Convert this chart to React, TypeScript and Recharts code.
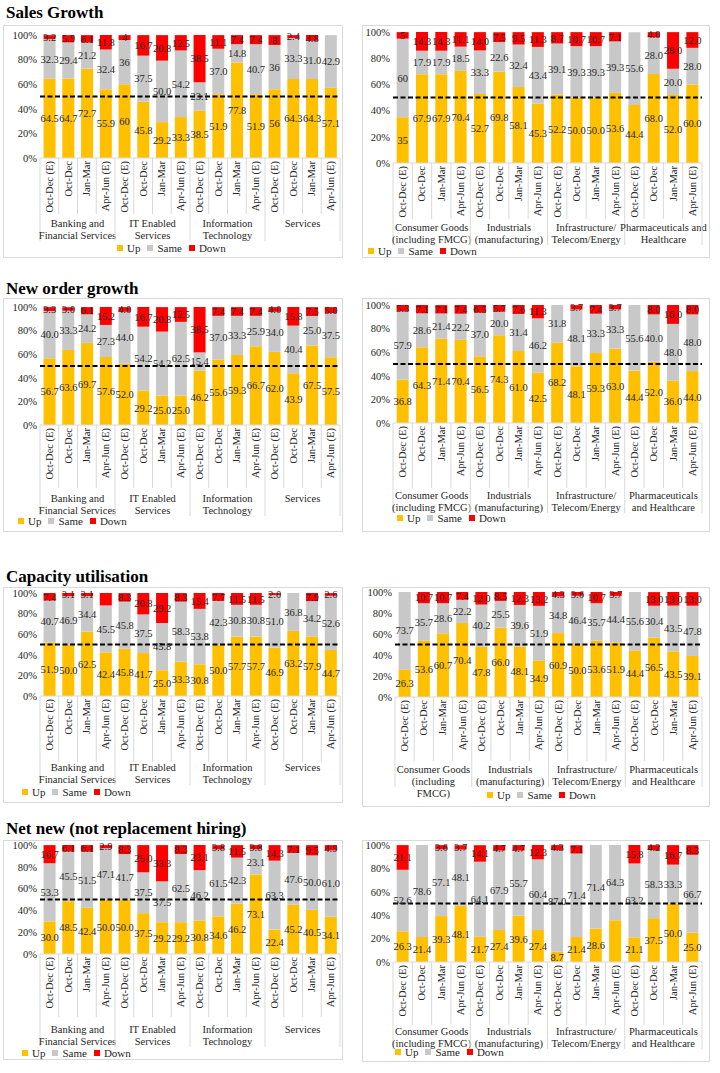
import React from 'react';
import { BarChart, Bar, XAxis, YAxis, ReferenceLine, LabelList } from 'recharts';

const periods = ['Oct-Dec (E)', 'Oct-Dec', 'Jan-Mar', 'Apr-Jun (E)'];
const leftGroups = ['Banking and\nFinancial Services', 'IT Enabled\nServices', 'Information\nTechnology', 'Services'];
const rightGroupsSales = ['Consumer Goods\n(including FMCG)', 'Industrials\n(manufacturing)', 'Infrastructure/\nTelecom/Energy', 'Pharmaceuticals and\nHealthcare'];
const rightGroups = ['Consumer Goods\n(including FMCG)', 'Industrials\n(manufacturing)', 'Infrastructure/\nTelecom/Energy', 'Pharmaceuticals\nand Healthcare'];
const rightGroupsCapacity = ['Consumer Goods\n(including\nFMCG)', 'Industrials\n(manufacturing)', 'Infrastructure/\nTelecom/Energy', 'Pharmaceuticals\nand Healthcare'];
const seriesNames = ['Up', 'Same', 'Down'];
const seriesColors = ['#FFC000', '#C8C8C8', '#FF0000'];
const yTicks = [0, 10, 20, 30, 40, 50, 60, 70, 80, 90, 100];

// Sales Growth
const salesLeftUp = ['64.5', '64.7', '72.7', '55.9', '60', '45.8', '29.2', '33.3', '38.5', '51.9', '77.8', '51.9', '56', '64.3', '64.3', '57.1'];
const salesLeftSame = ['32.3', '29.4', '21.2', '32.4', '36', '37.5', '50.0', '54.2', '23.1', '37.0', '14.8', '40.7', '36', '33.3', '31.0', '42.9'];
const salesLeftDown = ['3.2', '5.9', '6.1', '11.8', '4', '16.7', '20.8', '12.5', '38.5', '11.1', '7.4', '7.4', '8', '2.4', '4.8', ''];
const salesRightUp = ['35', '67.9', '67.9', '70.4', '52.7', '69.8', '58.1', '45.3', '52.2', '50.0', '50.0', '53.6', '44.4', '68.0', '52.0', '60.0'];
const salesRightSame = ['60', '17.9', '17.9', '18.5', '33.3', '22.6', '32.4', '43.4', '39.1', '39.3', '39.3', '39.3', '55.6', '28.0', '20.0', '28.0'];
const salesRightDown = ['5', '14.3', '14.3', '11.1', '14.0', '7.5', '9.5', '11.3', '8.7', '10.7', '10.7', '7.1', '', '4.0', '28.0', '12.0'];

// New order growth
const orderLeftUp = ['56.7', '63.6', '69.7', '57.6', '52.0', '29.2', '25.0', '25.0', '46.2', '55.6', '59.3', '66.7', '62.0', '43.9', '67.5', '57.5'];
const orderLeftSame = ['40.0', '33.3', '24.2', '27.3', '44.0', '54.2', '54.2', '62.5', '15.4', '37.0', '33.3', '25.9', '34.0', '40.4', '25.0', '37.5'];
const orderLeftDown = ['3.3', '3.0', '6.1', '15.2', '4.0', '16.7', '20.8', '12.5', '38.5', '7.4', '7.4', '7.4', '4.0', '15.8', '7.5', '5.0'];
const orderRightUp = ['36.8', '64.3', '71.4', '70.4', '56.5', '74.3', '61.0', '42.5', '68.2', '48.1', '59.3', '63.0', '44.4', '52.0', '36.0', '44.0'];
const orderRightSame = ['57.9', '28.6', '21.4', '22.2', '37.0', '20.0', '31.4', '46.2', '31.8', '48.1', '33.3', '33.3', '55.6', '40.0', '48.0', '48.0'];
const orderRightDown = ['5.3', '7.1', '7.1', '7.4', '6.5', '5.7', '7.6', '11.3', '', '3.7', '7.4', '3.7', '', '8.0', '16.0', '8.0'];

// Capacity utilisation
const capLeftUp = ['51.9', '50.0', '62.5', '42.4', '45.8', '41.7', '25.0', '33.3', '30.8', '50.0', '57.7', '57.7', '46.9', '63.2', '57.9', '44.7'];
const capLeftSame = ['40.7', '46.9', '34.4', '45.5', '45.8', '37.5', '45.8', '58.3', '53.8', '42.3', '30.8', '30.8', '51.0', '36.8', '34.2', '52.6'];
const capLeftDown = ['7.4', '3.1', '3.1', '12.1', '8.3', '20.8', '29.2', '8.3', '15.4', '7.7', '11.5', '11.5', '2.0', '', '7.9', '2.6'];
const capRightUp = ['26.3', '53.6', '60.7', '70.4', '47.8', '66.0', '48.1', '34.9', '60.9', '50.0', '53.6', '51.9', '44.4', '56.5', '43.5', '39.1'];
const capRightSame = ['73.7', '35.7', '28.6', '22.2', '40.2', '25.5', '39.6', '51.9', '34.8', '46.4', '35.7', '44.4', '55.6', '30.4', '43.5', '47.8'];
const capRightDown = ['', '10.7', '10.7', '7.4', '12.0', '8.5', '12.3', '13.2', '4.3', '3.6', '10.7', '3.7', '', '13.0', '13.0', '13.0'];

// Net new (not replacement hiring)
const hireLeftUp = ['30.0', '48.5', '42.4', '50.0', '50.0', '37.5', '29.2', '29.2', '30.8', '34.6', '46.2', '73.1', '22.4', '45.2', '40.5', '34.1'];
const hireLeftSame = ['53.3', '45.5', '51.5', '47.1', '41.7', '37.5', '37.5', '62.5', '46.2', '61.5', '42.3', '23.1', '63.3', '47.6', '50.0', '61.0'];
const hireLeftDown = ['16.7', '6.1', '6.1', '2.9', '8.3', '25.0', '33.3', '8.3', '23.1', '3.8', '11.5', '3.8', '14.3', '7.1', '9.5', '4.9'];
const hireRightUp = ['26.3', '21.4', '39.3', '48.1', '21.7', '27.4', '39.6', '27.4', '8.7', '21.4', '28.6', '35.7', '21.1', '37.5', '50.0', '25.0'];
const hireRightSame = ['52.6', '78.6', '57.1', '48.1', '64.1', '67.9', '55.7', '60.4', '87.0', '71.4', '71.4', '64.3', '63.2', '58.3', '33.3', '66.7'];
const hireRightDown = ['21.1', '', '3.6', '3.7', '14.1', '4.7', '4.7', '12.3', '4.3', '7.1', '', '', '15.8', '4.2', '16.7', '8.3'];

const FONT = "'Liberation Serif', 'Times New Roman', serif";
const TEXT = '#262626';
const GRID = '#d9d9d9';

type Hidden = { series: 'up' | 'same' | 'down'; index: number }[];

const toRows = (up: string[], same: string[], down: string[], hidden: Hidden) => {
  const shown = (s: string, v: string, i: number) => (hidden.some((h) => h.series === s && h.index === i) ? '' : v);
  return up.map((u, i) => ({
    period: periods[i % 4],
    up: Number(u) || 0,
    same: Number(same[i]) || 0,
    down: Number(down[i]) || 0,
    upLabel: shown('up', u, i),
    sameLabel: shown('same', same[i], i),
    downLabel: shown('down', down[i], i),
  }));
};

type Box = { x: number; y: number; w: number; h: number };
type Plot = { l: number; t: number; r: number; b: number };

type PanelProps = {
  title?: string;
  titleY?: number;
  groups: string[];
  up: string[];
  same: string[];
  down: string[];
  hidden?: Hidden;
  box: Box;
  plot: Plot;
  tickH: number;
  groupY: number;
  legend: { x: number; y: number };
};

const makeTick = (groups: string[], band: number, tickH: number, groupY: number) => (props: any) => {
  const { x, y, payload, index } = props;
  const left = x - band / 2;
  const groupBottom = groupY + 14;
  const isGroupStart = index % 4 === 0;
  const lines = isGroupStart ? groups[index / 4].split('\n') : [];
  return (
    <g>
      <text
        transform={`translate(${x + 3.5},${y + 3}) rotate(-90)`}
        textAnchor="end"
        fontSize={10.5}
        fill={TEXT}
        fontFamily={FONT}
      >
        {payload.value}
      </text>
      <line x1={left} x2={left} y1={y} y2={y + (isGroupStart ? groupBottom : tickH)} stroke={GRID} />
      {index === 15 && <line x1={x + band / 2} x2={x + band / 2} y1={y} y2={y + groupBottom} stroke={GRID} />}
      {isGroupStart && (
        <text x={left + 2 * band} y={y + groupY} textAnchor="middle" fontSize={10.5} fill={TEXT} fontFamily={FONT}>
          {lines.map((l, i) => (
            <tspan key={i} x={left + 2 * band} dy={i === 0 ? 0 : 12}>
              {l}
            </tspan>
          ))}
        </text>
      )}
    </g>
  );
};

const labelStyle = { fontSize: 10.5, fill: TEXT, fontFamily: FONT };

const Panel = ({ title, titleY, groups, up, same, down, hidden = [], box, plot, tickH, groupY, legend }: PanelProps) => {
  const rows = toRows(up, same, down, hidden);
  const top = plot.t - box.y;
  const yAxisW = plot.l - box.x;
  const right = box.x + box.w - plot.r;
  const xAxisH = box.h - (plot.b - box.y);
  const band = (plot.r - plot.l) / 16;
  return (
    <>
      {title && (
        <div style={{ position: 'absolute', left: 6, top: titleY, fontSize: 17, fontWeight: 'bold', fontFamily: FONT, color: '#000', whiteSpace: 'nowrap' }}>
          {title}
        </div>
      )}
      <div style={{ position: 'absolute', left: box.x, top: box.y, width: box.w, height: box.h, border: `1px solid ${GRID}`, boxSizing: 'border-box' }} />
      <div style={{ position: 'absolute', left: box.x, top: box.y }}>
        <BarChart width={box.w} height={box.h} data={rows} margin={{ top, right, left: 0, bottom: 0 }} barCategoryGap="19%">
          <YAxis
            width={yAxisW}
            domain={[0, 100]}
            ticks={yTicks}
            tickFormatter={(v) => `${v}%`}
            axisLine={false}
            tickLine={false}
            tickSize={0}
            tickMargin={3}
            tick={{ fontSize: 10.5, fill: TEXT, fontFamily: FONT }}
          />
          <XAxis
            dataKey="period"
            height={xAxisH}
            interval={0}
            tickLine={false}
            tickSize={0}
            tickMargin={0}
            axisLine={{ stroke: GRID }}
            tick={makeTick(groups, band, tickH, groupY)}
          />
          <Bar dataKey="up" stackId="s" fill={seriesColors[0]} isAnimationActive={false}>
            <LabelList dataKey="upLabel" position="center" style={labelStyle} />
          </Bar>
          <Bar dataKey="same" stackId="s" fill={seriesColors[1]} isAnimationActive={false}>
            <LabelList dataKey="sameLabel" position="center" style={labelStyle} />
          </Bar>
          <Bar dataKey="down" stackId="s" fill={seriesColors[2]} isAnimationActive={false}>
            <LabelList dataKey="downLabel" position="center" style={labelStyle} />
          </Bar>
          <ReferenceLine y={50} stroke="#000" strokeWidth={2} strokeDasharray="5 2.5" />
        </BarChart>
      </div>
      <div style={{ position: 'absolute', left: legend.x, top: legend.y - 7, display: 'flex', alignItems: 'center', fontSize: 11, lineHeight: '14px', fontFamily: FONT, color: TEXT, whiteSpace: 'nowrap' }}>
        {seriesNames.map((n, i) => (
          <span key={n} style={{ display: 'flex', alignItems: 'center', marginRight: 7 }}>
            <span style={{ width: 6, height: 6, background: seriesColors[i], marginRight: 4, display: 'inline-block' }} />
            {n}
          </span>
        ))}
      </div>
    </>
  );
};

export default function App() {
  return (
    <div style={{ position: 'absolute', left: 0, top: 0, width: 720, height: 1073, background: '#fff', fontFamily: FONT }}>
      <Panel
        title="Sales Growth"
        titleY={3}
        groups={leftGroups}
        up={salesLeftUp}
        same={salesLeftSame}
        down={salesLeftDown}
        box={{ x: 3, y: 25, w: 340, h: 233 }}
        plot={{ l: 40, t: 35, r: 340, b: 158 }}
        tickH={56}
        groupY={69}
        legend={{ x: 117, y: 248 }}
      />
      <Panel
        groups={rightGroupsSales}
        up={salesRightUp}
        same={salesRightSame}
        down={salesRightDown}
        box={{ x: 362, y: 25, w: 348, h: 233 }}
        plot={{ l: 393, t: 32, r: 702, b: 163 }}
        tickH={56}
        groupY={68}
        legend={{ x: 368, y: 251 }}
      />
      <Panel
        title="New order growth"
        titleY={279}
        groups={leftGroups}
        up={orderLeftUp}
        same={orderLeftSame}
        down={orderLeftDown}
        box={{ x: 3, y: 298, w: 340, h: 234 }}
        plot={{ l: 40, t: 307, r: 340, b: 425 }}
        tickH={63}
        groupY={77}
        legend={{ x: 18, y: 521 }}
      />
      <Panel
        groups={rightGroups}
        up={orderRightUp}
        same={orderRightSame}
        down={orderRightDown}
        box={{ x: 362, y: 298, w: 348, h: 234 }}
        plot={{ l: 393, t: 305, r: 702, b: 423 }}
        tickH={65}
        groupY={76}
        legend={{ x: 397, y: 518 }}
      />
      <Panel
        title="Capacity utilisation"
        titleY={567}
        groups={leftGroups}
        up={capLeftUp}
        same={capLeftSame}
        down={capLeftDown}
        hidden={[{ series: 'down', index: 3 }]}
        box={{ x: 3, y: 587, w: 340, h: 216 }}
        plot={{ l: 40, t: 593, r: 340, b: 696 }}
        tickH={66}
        groupY={75}
        legend={{ x: 22, y: 792 }}
      />
      <Panel
        groups={rightGroupsCapacity}
        up={capRightUp}
        same={capRightSame}
        down={capRightDown}
        box={{ x: 362, y: 587, w: 348, h: 220 }}
        plot={{ l: 395, t: 592, r: 702, b: 697 }}
        tickH={64}
        groupY={76}
        legend={{ x: 487, y: 795 }}
      />
      <Panel
        title="Net new (not replacement hiring)"
        titleY={819}
        groups={leftGroups}
        up={hireLeftUp}
        same={hireLeftSame}
        down={hireLeftDown}
        box={{ x: 3, y: 840, w: 340, h: 220 }}
        plot={{ l: 40, t: 845, r: 340, b: 954 }}
        tickH={63}
        groupY={79}
        legend={{ x: 22, y: 1053 }}
      />
      <Panel
        groups={rightGroups}
        up={hireRightUp}
        same={hireRightSame}
        down={hireRightDown}
        hidden={[{ series: 'up', index: 11 }]}
        box={{ x: 362, y: 840, w: 348, h: 222 }}
        plot={{ l: 393, t: 845, r: 702, b: 962 }}
        tickH={63}
        groupY={73}
        legend={{ x: 395, y: 1052 }}
      />
    </div>
  );
}
